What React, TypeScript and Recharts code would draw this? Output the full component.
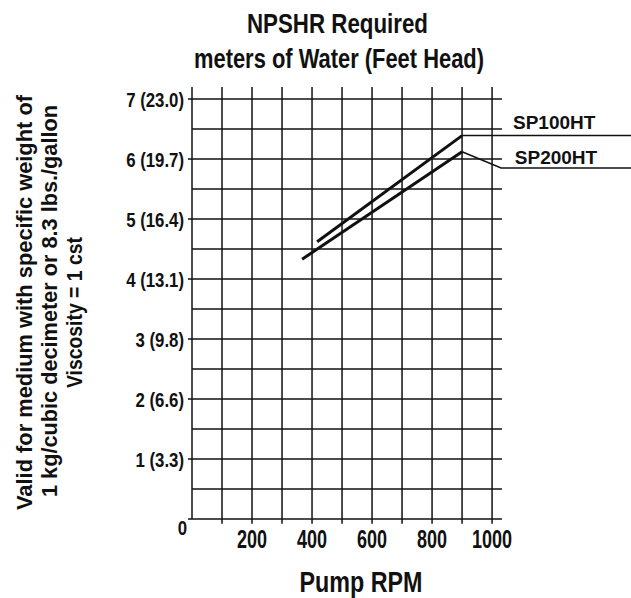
import React from 'react';
import { LineChart, Line, XAxis, YAxis, ReferenceLine, ReferenceDot } from 'recharts';

// ---- data ----
const rpmTicks = [200, 400, 600, 800, 1000];
const headTicks = [0, 1, 2, 3, 4, 5, 6, 7];
const feetHead = ['', '3.3', '6.6', '9.8', '13.1', '16.4', '19.7', '23.0'];
const gridRpm = [100, 200, 300, 400, 500, 600, 700, 800, 900, 1000];
const gridHead = [0, 0.5, 1, 1.5, 2, 2.5, 3, 3.5, 4, 4.5, 5, 5.5, 6, 6.5, 7];

const sp100Rpm = [417, 900];
const sp100Head = [4.62, 6.39];
const sp200Rpm = [367, 900];
const sp200Head = [4.33, 6.12];
const lead100Rpm = [900, 1463];
const lead100Head = [6.39, 6.39];
const lead200Rpm = [900, 1030, 1463];
const lead200Head = [6.12, 5.85, 5.85];

const seriesLabels = [
  { name: 'SP100HT', rpm: 1207, head: 6.62 },
  { name: 'SP200HT', rpm: 1213, head: 6.03 },
];

const titleLines = ['NPSHR Required', 'meters of Water (Feet Head)'];
const yTitleLines = [
  'Valid for medium with specific weight of',
  '1 kg/cubic decimeter or 8.3 lbs./gallon',
  'Viscosity = 1 cst',
];
const xTitle = 'Pump RPM';

const toPts = (xs: number[], ys: number[]) => xs.map((x, i) => ({ x, y: ys[i] }));

const FONT = "'Liberation Sans', Arial, sans-serif";
const INK = '#111';

type NProps = {
  x: number;
  y: number;
  size: number;
  anchor?: 'start' | 'middle' | 'end';
  scale?: number;
  rotate?: number;
  length?: number;
  children: React.ReactNode;
};

// bold condensed text: Liberation Sans squeezed horizontally
const NText = ({ x, y, size, anchor = 'middle', scale = 1, rotate = 0, length, children }: NProps) => (
  <text
    x={0}
    y={0}
    transform={`translate(${x} ${y}) rotate(${rotate}) scale(${scale} 1)`}
    textAnchor={anchor}
    fontFamily={FONT}
    fontWeight="bold"
    fontSize={size}
    fill={INK}
    {...(length ? { textLength: length, lengthAdjust: 'spacingAndGlyphs' } : {})}
  >
    {children}
  </text>
);

const YTick = (props: any) => {
  const { x, y, payload } = props;
  const v = payload.value as number;
  const label = v === 0 ? '0' : `${v} (${feetHead[v]})`;
  return (
    <NText x={x + (v === 0 ? 3 : 0)} y={y + 7.5 + (v === 0 ? 8 : 0)} size={21} anchor="end" scale={0.8}>
      {label}
    </NText>
  );
};

const XTick = (props: any) => {
  const { x, y, payload } = props;
  return (
    <NText x={x} y={y + 18} size={25} anchor="middle" scale={0.72}>
      {String(payload.value)}
    </NText>
  );
};

const YLabel = () => {
  const pos = [
    { x: 32, y: 302.5, len: 415 },
    { x: 57, y: 301, len: 392 },
    { x: 82, y: 312.5, len: 151 },
  ];
  return (
    <g>
      {yTitleLines.map((t, i) => (
        <NText key={t} x={pos[i].x} y={pos[i].y} size={22} rotate={-90} length={pos[i].len}>
          {t}
        </NText>
      ))}
    </g>
  );
};

const XLabel = () => (
  <NText x={361} y={592} size={30} length={123}>
    {xTitle}
  </NText>
);

export default function App() {
  return (
    <div style={{ position: 'absolute', left: 0, top: 0, width: 631, height: 598, background: '#fff' }}>
      <div style={{ position: 'absolute', left: 0, top: 0 }}>
        <LineChart width={631} height={598} margin={{ top: 87, right: 0, bottom: 19, left: 0 }}>
          <XAxis
            dataKey="x"
            type="number"
            domain={[0, 1463]}
            ticks={rpmTicks}
            axisLine={false}
            tickLine={false}
            tickSize={9}
            tickMargin={2}
            height={60}
            allowDataOverflow
            tick={(p: any) => <XTick {...p} />}
            label={{ content: () => <XLabel /> }}
          />
          <YAxis
            type="number"
            domain={[0, 7.2]}
            ticks={headTicks}
            width={192}
            allowDataOverflow
            axisLine={{ stroke: INK, strokeWidth: 1.5 }}
            tickLine={{ stroke: INK, strokeWidth: 1.5 }}
            tickSize={4}
            tickMargin={4}
            tick={(p: any) => <YTick {...p} />}
            label={{ content: () => <YLabel /> }}
          />
          {gridHead.map((h) => (
            <ReferenceLine
              key={'h' + h}
              segment={[{ x: 0, y: h }, { x: 1033, y: h }]}
              stroke={INK}
              strokeWidth={1.5}
              ifOverflow="visible"
            />
          ))}
          {gridRpm.map((r) => (
            <ReferenceLine
              key={'v' + r}
              segment={[{ x: r, y: -0.08 }, { x: r, y: 7.2 }]}
              stroke={INK}
              strokeWidth={1.5}
              ifOverflow="visible"
            />
          ))}
          <Line data={toPts(sp100Rpm, sp100Head)} dataKey="y" stroke={INK} strokeWidth={3} dot={false} isAnimationActive={false} />
          <Line data={toPts(sp200Rpm, sp200Head)} dataKey="y" stroke={INK} strokeWidth={3} dot={false} isAnimationActive={false} />
          <Line data={toPts(lead100Rpm, lead100Head)} dataKey="y" stroke={INK} strokeWidth={1.5} dot={false} isAnimationActive={false} />
          <Line data={toPts(lead200Rpm, lead200Head)} dataKey="y" stroke={INK} strokeWidth={1.5} dot={false} isAnimationActive={false} />
          {seriesLabels.map((s) => (
            <ReferenceDot
              key={s.name}
              x={s.rpm}
              y={s.head}
              r={0}
              stroke="none"
              fill="none"
              ifOverflow="visible"
              label={{
                value: s.name,
                position: 'center',
                fontFamily: FONT,
                fontWeight: 'bold',
                fontSize: 19,
                fill: INK,
              }}
            />
          ))}
        </LineChart>
      </div>
      <svg width={631} height={80} style={{ position: 'absolute', left: 0, top: 0 }}>
        <NText x={337.5} y={33} size={28} length={181}>
          {titleLines[0]}
        </NText>
        <NText x={339} y={68} size={28} length={290}>
          {titleLines[1]}
        </NText>
      </svg>
    </div>
  );
}
